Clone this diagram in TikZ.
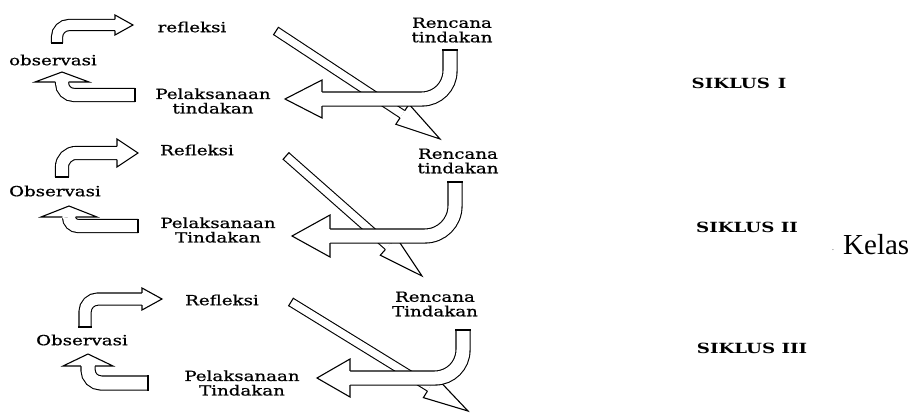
\documentclass[tikz,border=0pt]{standalone}
\usepackage{fontspec}
\setmainfont{DejaVu Serif}
\newfontfamily\lblfont[FakeBold=0.6]{DejaVu Serif}
\newfontfamily\kelasfont{Liberation Serif}
\usetikzlibrary{calc}
\newcommand{\sx}[1]{\scalebox{1.3}[1]{#1}}
% #1 base centre, #2 tip, #3 half width of head, #4 half width of shaft border centre
\newcommand{\blockhead}[4]{%
  \filldraw[outl, fill=white] ($(#1)!#4!90:(#2)$) -- ($(#1)!#3!90:(#2)$) -- (#2)
    -- ($(#1)!#3!-90:(#2)$) -- ($(#1)!#4!-90:(#2)$);}
% #1 tail, #2 next point, #3 half outer width
\newcommand{\blockcap}[3]{%
  \draw[outl] ($(#1)!#3!90:(#2)$) -- ($(#1)!#3!-90:(#2)$);}
\tikzset{
  outl/.style={line width=1.1pt, line join=miter},
  shaft/.style={line width=1.1pt, double=white, double distance=#1},
  lbl/.style={font=\lblfont\fontsize{14}{14.5}\selectfont, align=center, inner sep=0pt},
  siklus/.style={font=\fontsize{14}{15}\selectfont\bfseries, inner sep=0pt},
}
\begin{document}
\begin{tikzpicture}[x=1pt,y=-1pt]
\fill[white] (0,0) rectangle (909,412);
\useasboundingbox (0,0) rectangle (909,412);

% ---------- coordinates ----------
% cycle 1
\coordinate (A1s) at (57,43);  \coordinate (A1c) at (57,25);  \coordinate (A1b) at (115,25);  \coordinate (A1t) at (133,25);
\coordinate (B1s) at (135,95); \coordinate (B1c) at (62,95);  \coordinate (B1b) at (62,82);   \coordinate (B1t) at (62,72);
\coordinate (C1s) at (450,50); \coordinate (C1c) at (450,99); \coordinate (C1b) at (322,99);  \coordinate (C1t) at (285,99);
\coordinate (D1s) at (276,31); \coordinate (D1t) at (440,139);
% cycle 2
\coordinate (A2s) at (62,177);  \coordinate (A2c) at (62,153);  \coordinate (A2b) at (117,153); \coordinate (A2t) at (138,153);
\coordinate (B2s) at (138,226); \coordinate (B2c) at (69,226);  \coordinate (B2b) at (69,217);  \coordinate (B2t) at (69,206);
\coordinate (C2s) at (455,182); \coordinate (C2c) at (455,236); \coordinate (C2b) at (330,236); \coordinate (C2t) at (292,236);
\coordinate (D2s) at (286,156); \coordinate (D2t) at (422,276);
% cycle 3
\coordinate (A3s) at (85,327);  \coordinate (A3c) at (85,299);  \coordinate (A3b) at (142,299); \coordinate (A3t) at (162,299);
\coordinate (B3s) at (148,383); \coordinate (B3c) at (88,383);  \coordinate (B3b) at (88,366);  \coordinate (B3t) at (88,354);
\coordinate (C3s) at (463,330); \coordinate (C3c) at (463,378); \coordinate (C3b) at (350,378); \coordinate (C3t) at (317,378);
\coordinate (D3s) at (291,302); \coordinate (D3t) at (468,411);

% ---------- diagonal arrows ----------
\foreach \i in {1,2,3}{
  \coordinate (D\i b) at ($(D\i t)!45pt!(D\i s)$);
  \draw[shaft=7.5pt] (D\i s) -- (D\i b);
  \blockcap{D\i s}{D\i t}{4.85pt}
  \blockhead{D\i b}{D\i t}{12pt}{4.3pt}
}

% ---------- J arrows (Rencana -> Pelaksanaan) ----------
\draw[shaft=13pt, rounded corners=28pt] (C1s) -- (C1c) -- (C1b);
\blockcap{C1s}{C1c}{7.6pt}
\blockhead{C1b}{C1t}{19pt}{7.05pt}
\draw[shaft=13pt, rounded corners=30pt] (C2s) -- (C2c) -- (C2b);
\blockcap{C2s}{C2c}{7.6pt}
\blockhead{C2b}{C2t}{21pt}{7.05pt}
\draw[shaft=13pt, rounded corners=28pt] (C3s) -- (C3c) -- (C3b);
\blockcap{C3s}{C3c}{7.6pt}
\blockhead{C3b}{C3t}{19pt}{7.05pt}

% ---------- observasi -> refleksi ----------
\draw[shaft=10pt, rounded corners=12pt] (A1s) -- (A1c) -- (A1b);
\blockcap{A1s}{A1c}{6.1pt}
\blockhead{A1b}{A1t}{10pt}{5.55pt}
\draw[shaft=12pt, rounded corners=14pt] (A2s) -- (A2c) -- (A2b);
\blockcap{A2s}{A2c}{7.1pt}
\blockhead{A2b}{A2t}{14pt}{6.55pt}
\draw[shaft=11pt, rounded corners=13pt] (A3s) -- (A3c) -- (A3b);
\blockcap{A3s}{A3c}{6.6pt}
\blockhead{A3b}{A3t}{11pt}{6.05pt}

% ---------- pelaksanaan -> observasi ----------
\draw[shaft=12pt, rounded corners=12pt] (B1s) -- (B1c) -- (B1b);
\blockcap{B1s}{B1c}{7.1pt}
\blockhead{B1b}{B1t}{27pt}{6.55pt}
\draw[shaft=12pt, rounded corners=9pt] (B2s) -- (B2c) -- (B2b);
\blockcap{B2s}{B2c}{7.1pt}
\blockhead{B2b}{B2t}{28pt}{6.55pt}
\draw[shaft=13pt, rounded corners=13pt] (B3s) -- (B3c) -- (B3b);
\blockcap{B3s}{B3c}{7.6pt}
\blockhead{B3b}{B3t}{25pt}{7.05pt}

% ---------- labels ----------
\node[lbl] (ref1) at (192,27)  {\sx{refleksi}};
\node[lbl] (obs1) at (53,60)   {\sx{observasi}};
\node[lbl] (pel1) at (213,101) {\sx{Pelaksanaan}\\\sx{tindakan}};
\node[lbl] (ren1) at (452,30)  {\sx{Rencana}\\\sx{tindakan}};

\node[lbl] (ref2) at (197,150) {\sx{Refleksi}};
\node[lbl] (obs2) at (55,191)  {\sx{Observasi}};
\node[lbl] (pel2) at (218,230) {\sx{Pelaksanaan}\\\sx{Tindakan}};
\node[lbl] (ren2) at (458,161) {\sx{Rencana}\\\sx{tindakan}};

\node[lbl] (ref3) at (222,300) {\sx{Refleksi}};
\node[lbl] (obs3) at (82,340)  {\sx{Observasi}};
\node[lbl] (pel3) at (242,383) {\sx{Pelaksanaan}\\\sx{Tindakan}};
\node[lbl] (ren3) at (435,304) {\sx{Rencana}\\\sx{Tindakan}};

\node[siklus] (s1) at (739,83)  {\sx{SIKLUS\hspace{6pt}I}};
\node[siklus] (s2) at (747,227) {\sx{SIKLUS II}};
\node[siklus] (s3) at (752,348) {\sx{SIKLUS III}};

\node[inner sep=0pt, font=\fontsize{9}{9}\selectfont, text=gray] (dot) at (833,250) {.};
\node[anchor=base west, inner sep=0pt, font=\kelasfont\fontsize{29}{30}\selectfont] (kelas) at (843,254) {Kelas};
\end{tikzpicture}
\end{document}
